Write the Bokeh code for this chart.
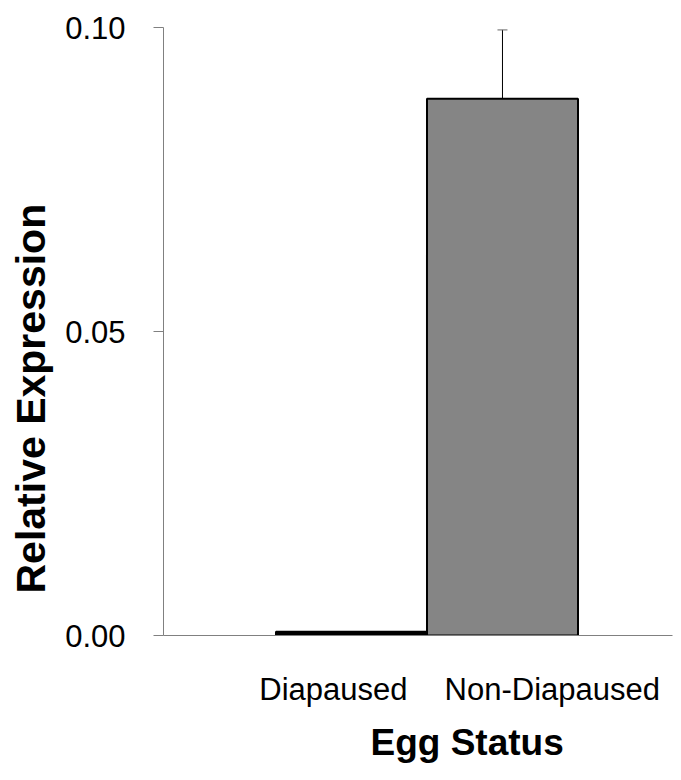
from bokeh.plotting import figure
from bokeh.models import (Range1d, FixedTicker, NumeralTickFormatter, ColumnDataSource,
                          Whisker, Title)
from bokeh.embed import file_html
from bokeh.resources import INLINE

# ---- data ----
categories = ["Diapaused", "Non-Diapaused"]
positions = [1, 2]
expression = [0.0006, 0.0883]
sem = [0.0, 0.0113]
y_ticks = [0.0, 0.05, 0.10]
label_positions = [0.88, 2.33]

bar_fills = ["#000000", "#858585"]
FONT = "Liberation Sans"

p = figure(width=673, height=772, output_backend="svg", toolbar_location=None,
           x_range=Range1d(-0.245, 3.126), y_range=Range1d(0, 0.1),
           min_border_left=163, min_border_right=1, min_border_top=27,
           min_border_bottom=137)
p.outline_line_color = None
p.xgrid.visible = False
p.ygrid.visible = False
p.background_fill_color = "white"

src = ColumnDataSource(dict(x=positions, top=expression, fill=bar_fills))
p.vbar(x="x", top="top", bottom=0, width=1.0, source=src,
       fill_color="fill", line_color="black", line_width=2)

err_src = ColumnDataSource(dict(x=positions[1:], upper=[expression[1] + sem[1]],
                                lower=[expression[1] - sem[1]]))
w = Whisker(base="x", upper="upper", lower="lower", source=err_src,
            line_color="black", line_width=1)
w.upper_head.size = 10
w.lower_head.size = 10
w.upper_head.line_color = "#666666"
w.lower_head.line_color = "black"
p.add_layout(w)

# y axis
p.yaxis.ticker = FixedTicker(ticks=y_ticks)
p.yaxis.formatter = NumeralTickFormatter(format="0.00")
p.yaxis.axis_line_color = "#808080"
p.yaxis.major_tick_line_color = "#808080"
p.yaxis.major_tick_out = 10
p.yaxis.major_tick_in = 0
p.yaxis.minor_tick_line_color = None
p.yaxis.major_label_text_font = FONT
p.yaxis.major_label_text_font_size = "31px"
p.yaxis.major_label_text_color = "black"
p.yaxis.major_label_standoff = 28

# x axis
p.xaxis.ticker = FixedTicker(ticks=label_positions)
p.xaxis.major_label_overrides = {label_positions[i]: categories[i] for i in range(2)}
p.xaxis.axis_line_color = "#808080"
p.xaxis.major_tick_line_color = None
p.xaxis.major_tick_out = 0
p.xaxis.major_tick_in = 0
p.xaxis.minor_tick_line_color = None
p.xaxis.major_label_text_font = FONT
p.xaxis.major_label_text_font_size = "31px"
p.xaxis.major_label_text_color = "black"
p.xaxis.major_label_standoff = 36

# axis titles
p.add_layout(Title(text="Relative Expression", align="left", offset=42,
                   vertical_align="top",
                   text_font=FONT, text_font_style="bold", text_font_size="41px",
                   text_color="black", standoff=14), "left")
p.add_layout(Title(text="Egg Status", align="left", offset=207,
                   vertical_align="bottom",
                   text_font=FONT, text_font_style="bold", text_font_size="37px",
                   text_color="black", standoff=20), "below")

open("out.html", "w").write(file_html(p, INLINE))
